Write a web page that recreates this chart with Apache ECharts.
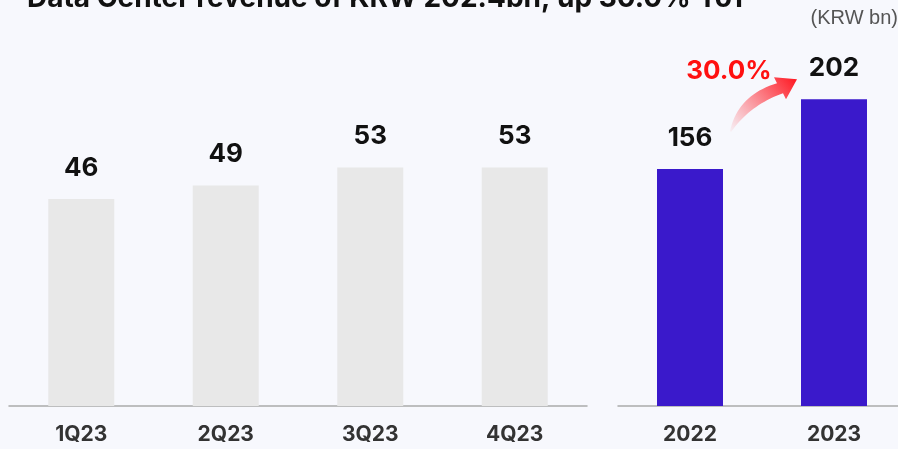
<!DOCTYPE html>
<html>
<head>
<meta charset="utf-8">
<script src="https://cdn.jsdelivr.net/npm/echarts@6/dist/echarts.min.js"></script>
<style>
  html, body { margin: 0; padding: 0; background: #f7f8fd; }
  #main { width: 898px; height: 449px; }
</style>
</head>
<body>
<div id="main"></div>
<script>
// 분기별 / 연도별 데이터
const quarters = ['1Q23', '2Q23', '3Q23', '4Q23'];
const quarterValues = [46, 49, 53, 53];
const years = ['2022', '2023'];
const yearValues = [156, 202];
const growthText = '30.0%';

const chart = echarts.init(document.getElementById('main'));

const labelStyle = {
  show: true,
  position: 'top',
  distance: 18,
  color: '#111',
  fontSize: 26,
  fontWeight: 'bold',
  fontFamily: 'Inter'
};
const axisLabelStyle = {
  color: '#333',
  fontSize: 21,
  fontWeight: 'bold',
  fontFamily: 'Inter',
  margin: 18
};

chart.setOption({
  backgroundColor: '#f7f8fd',
  animation: false,
  title: {
    text: 'Data Center revenue of KRW 202.4bn, up 30.0% YoY',
    left: 27,
    top: -15,
    padding: 0,
    textStyle: { fontSize: 28, fontWeight: 'bold', color: '#111', fontFamily: 'Inter' }
  },
  grid: [
    { left: 9, width: 578, top: 46, bottom: 43, outerBoundsMode: 'none' },
    { left: 618, width: 288, top: 46, bottom: 43, outerBoundsMode: 'none' }
  ],
  xAxis: [
    {
      gridIndex: 0, type: 'category', data: quarters,
      axisLine: { lineStyle: { color: '#aaa', width: 1.5 } },
      axisTick: { show: false },
      axisLabel: axisLabelStyle
    },
    {
      gridIndex: 1, type: 'category', data: years,
      axisLine: { lineStyle: { color: '#aaa', width: 1.5 } },
      axisTick: { show: false },
      axisLabel: axisLabelStyle
    }
  ],
  yAxis: [
    { gridIndex: 0, type: 'value', min: 0, max: 80, show: false, splitLine: { show: false } },
    { gridIndex: 1, type: 'value', min: 0, max: 237, show: false, splitLine: { show: false } }
  ],
  series: [
    {
      type: 'bar', xAxisIndex: 0, yAxisIndex: 0, data: quarterValues,
      barWidth: 66, itemStyle: { color: '#e8e8e8' }, label: labelStyle
    },
    {
      type: 'bar', xAxisIndex: 1, yAxisIndex: 1, data: yearValues,
      barWidth: 66, itemStyle: { color: '#3a19cb' }, label: labelStyle
    }
  ]
});

// 2차 베지어 곡선 샘플링
function quad(a, c, b, n) {
  const pts = [];
  for (let i = 0; i <= n; i++) {
    const t = i / n, u = 1 - t;
    pts.push([u * u * a[0] + 2 * u * t * c[0] + t * t * b[0],
              u * u * a[1] + 2 * u * t * c[1] + t * t * b[1]]);
  }
  return pts;
}

// 성장률 화살표: 막대 위치 기준으로 배치
const p1 = chart.convertToPixel({ xAxisIndex: 1, yAxisIndex: 1 }, [years[0], yearValues[0]]);
const p2 = chart.convertToPixel({ xAxisIndex: 1, yAxisIndex: 1 }, [years[1], yearValues[1]]);
const tail = [p1[0] + 40, p1[1] - 38];
const base = [p2[0] - 54, p2[1] - 11];
const tip = [p2[0] - 37, p2[1] - 20];
const upper = quad(tail, [tail[0] + 8, tail[1] - 36], [base[0] - 3, base[1] - 5], 20);
const lower = quad([base[0] + 3, base[1] + 5], [tail[0] + 20, tail[1] - 26], [tail[0] + 1, tail[1] + 1], 20);
const arrowPts = upper.concat(
  [[base[0] - 6, base[1] - 11], tip, [base[0] + 6, base[1] + 11]],
  lower
);

chart.setOption({
  graphic: [
    {
      type: 'polygon',
      shape: { points: arrowPts },
      style: {
        fill: {
          type: 'linear', x: 0, y: 1, x2: 1, y2: 0,
          colorStops: [
            { offset: 0, color: 'rgba(255,40,50,0.03)' },
            { offset: 1, color: 'rgba(255,20,30,1)' }
          ]
        }
      }
    },
    {
      type: 'text',
      x: p1[0] + 39,
      y: p2[1] - 28,
      style: {
        text: growthText,
        fill: '#ff1010',
        fontSize: 26,
        fontWeight: 'bold',
        fontFamily: 'Inter',
        align: 'center',
        verticalAlign: 'middle'
      }
    },
    {
      type: 'text',
      right: 0,
      top: 8,
      style: {
        text: '(KRW bn)',
        fill: '#555',
        fontSize: 20,
        fontFamily: 'Liberation Sans'
      }
    }
  ]
});
</script>
</body>
</html>
